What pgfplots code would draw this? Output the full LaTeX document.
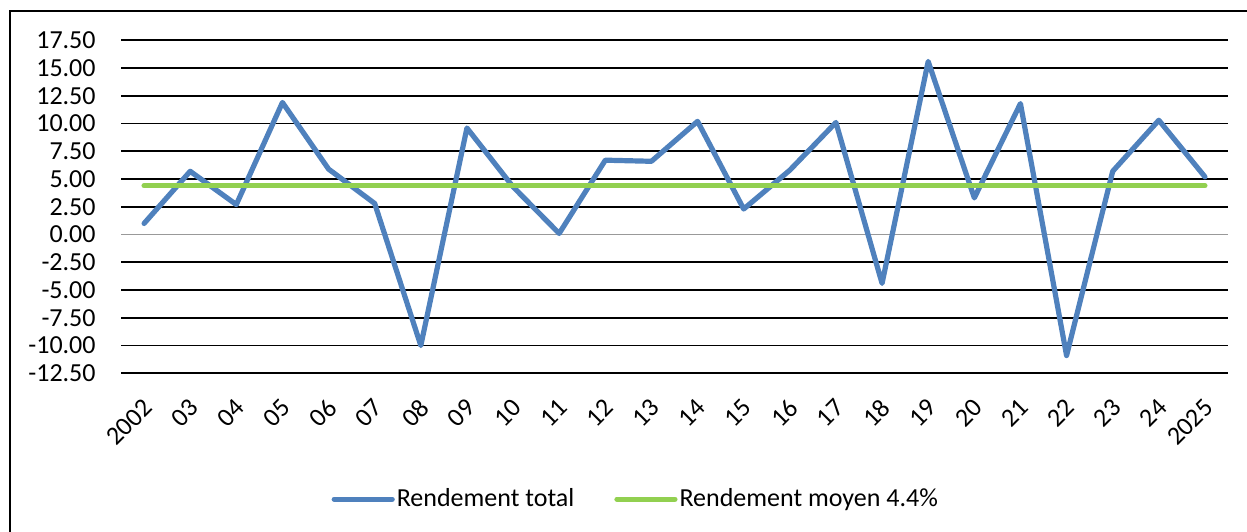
\documentclass[border=0pt]{standalone}
\usepackage{pgfplots}
\pgfplotsset{compat=1.18}
\usepackage{fontspec}
\setmainfont{Carlito}
\definecolor{blueline}{RGB}{79,129,189}
\definecolor{greenline}{RGB}{146,208,80}
\begin{document}
\begin{tikzpicture}
\useasboundingbox (0,0) rectangle (623.5pt,265.5pt);
\draw[line width=0.8pt] (5pt,-10pt) -- (5pt,260pt) -- (640pt,260pt);
\begin{axis}[
  at={(60.5pt,78.85pt)}, anchor=south west,
  scale only axis, width=553.5pt, height=166.5pt,
  xmin=-0.5, xmax=23.5, ymin=-12.5, ymax=17.5,
  axis line style={draw=none},
  tick style={draw=none},
  xtick={0,...,23},
  xticklabels={2002,03,04,05,06,07,08,09,10,11,12,13,14,15,16,17,18,19,20,21,22,23,24,2025},
  ytick={-12.5,-10,-7.5,-5,-2.5,2.5,5,7.5,10,12.5,15,17.5},
  yticklabels={-12.50,-10.00,-7.50,-5.00,-2.50,2.50,5.00,7.50,10.00,12.50,15.00,17.50},
  extra y ticks={0},
  extra y tick labels={0.00},
  extra y tick style={major grid style={color=black!40, line width=0.8pt}},
  ymajorgrids,
  major grid style={black, line width=0.9pt},
  ticklabel style={font=\fontsize{13}{15.6}\selectfont},
  yticklabel style={anchor=east, inner sep=0pt, xshift=-12.5pt},
  xticklabel style={xshift=2pt, yshift=-15pt, rotate=45, anchor=east, inner sep=0pt},
  legend style={at={(axis description cs:0.465,-0.378)}, anchor=center, draw=none, fill=none,
    legend columns=2, font=\fontsize{13}{15.6}\selectfont,
    /tikz/every even column/.append style={column sep=19pt},
    nodes={inner sep=1pt}},
  legend image code/.code={\draw[#1] (0pt,0pt) -- (29pt,0pt);},
  clip=false,
]
\addplot[blueline, line width=2.6pt, line cap=round, line join=round] coordinates {
(0,1.0) (1,5.7) (2,2.7) (3,11.9) (4,5.9) (5,2.8) (6,-10.0) (7,9.6) (8,4.3) (9,0.1)
(10,6.7) (11,6.6) (12,10.2) (13,2.3) (14,5.8) (15,10.1) (16,-4.4) (17,15.6) (18,3.3)
(19,11.8) (20,-10.9) (21,5.7) (22,10.3) (23,5.2)};
\addlegendentry{Rendement total}
\addplot[greenline, line width=2.6pt, line cap=round] coordinates {
(0,4.4) (1,4.4) (2,4.4) (3,4.4) (4,4.4) (5,4.4) (6,4.4) (7,4.4) (8,4.4) (9,4.4)
(10,4.4) (11,4.4) (12,4.4) (13,4.4) (14,4.4) (15,4.4) (16,4.4) (17,4.4) (18,4.4)
(19,4.4) (20,4.4) (21,4.4) (22,4.4) (23,4.4)};
\addlegendentry{Rendement moyen 4.4\%}
\end{axis}
\end{tikzpicture}
\end{document}
